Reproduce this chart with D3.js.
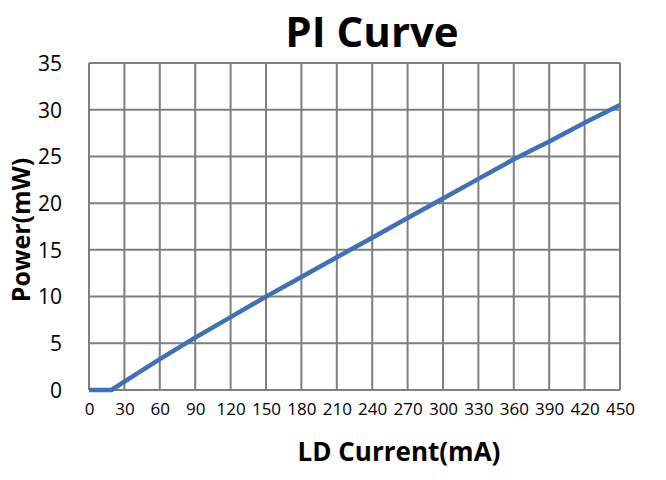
<!DOCTYPE html>
<html>
<head>
<meta charset="utf-8">
<script src="https://cdn.jsdelivr.net/npm/d3@7"></script>
<style>
  body { margin: 0; background: #fff; }
  text { font-family: "Open Sans", "Noto Sans", sans-serif; fill: #000; }
</style>
</head>
<body>
<div id="chart"></div>
<script>
// PI curve of a laser diode: optical power vs drive current

// Data
let current = [0, 19, 30, 60, 90, 120, 150, 180, 210, 240, 270, 300, 330, 360, 390, 420, 450];
let power = [0, 0, 0.9, 3.3, 5.6, 7.8, 10.0, 12.1, 14.2, 16.3, 18.4, 20.5, 22.6, 24.7, 26.6, 28.6, 30.5];
let xTicks = [0, 30, 60, 90, 120, 150, 180, 210, 240, 270, 300, 330, 360, 390, 420, 450];
let yTicks = [0, 5, 10, 15, 20, 25, 30, 35];

// Set chart size
let width = 666,
    height = 480,
    margin = { top: 63, right: 46, bottom: 90, left: 89 },
    plotW = width - margin.left - margin.right,
    plotH = height - margin.top - margin.bottom;

let x = d3.scaleLinear().domain([0, 450]).range([0, plotW]);
let y = d3.scaleLinear().domain([0, 35]).range([plotH, 0]);

let svg = d3.select("#chart").append("svg")
    .attr("width", width)
    .attr("height", height);

let g = svg.append("g")
    .attr("transform", `translate(${margin.left}, ${margin.top})`);

// Grid lines
g.append("g").selectAll("line").data(xTicks).join("line")
    .attr("x1", d => x(d)).attr("x2", d => x(d))
    .attr("y1", 0).attr("y2", plotH)
    .attr("stroke", "#7f7f7f").attr("stroke-width", 2);

g.append("g").selectAll("line").data(yTicks).join("line")
    .attr("x1", 0).attr("x2", plotW)
    .attr("y1", d => y(d)).attr("y2", d => y(d))
    .attr("stroke", "#7f7f7f").attr("stroke-width", 2);

// Axes (labels only)
let yaxis = g.append("g")
    .call(d3.axisLeft(y).tickValues(yTicks).tickSize(0).tickPadding(27));
yaxis.select(".domain").remove();
yaxis.selectAll("text").style("font-size", "21px").attr("dy", "0.35em");

let xaxis = g.append("g")
    .attr("transform", `translate(0, ${plotH})`)
    .call(d3.axisBottom(x).tickValues(xTicks).tickSize(0).tickPadding(13));
xaxis.select(".domain").remove();
xaxis.selectAll("text").style("font-size", "17px");

// The curve
let line = d3.line()
    .x((d, i) => x(current[i]))
    .y(d => y(d));

g.append("path")
    .datum(power)
    .attr("fill", "none")
    .attr("stroke", "#3f70b8")
    .attr("stroke-width", 4.5)
    .attr("stroke-linejoin", "round")
    .attr("d", line);

// Titles
svg.append("text")
    .attr("x", 372).attr("y", 47)
    .attr("text-anchor", "middle")
    .style("font-size", "42px").style("font-weight", "bold")
    .text("PI Curve");

svg.append("text")
    .attr("x", 399).attr("y", 461)
    .attr("text-anchor", "middle")
    .style("font-size", "26px").style("font-weight", "bold")
    .text("LD Current(mA)");

svg.append("text")
    .attr("transform", "translate(30, 230) rotate(-90)")
    .attr("text-anchor", "middle")
    .style("font-size", "25px").style("font-weight", "bold")
    .text("Power(mW)");
</script>
</body>
</html>
